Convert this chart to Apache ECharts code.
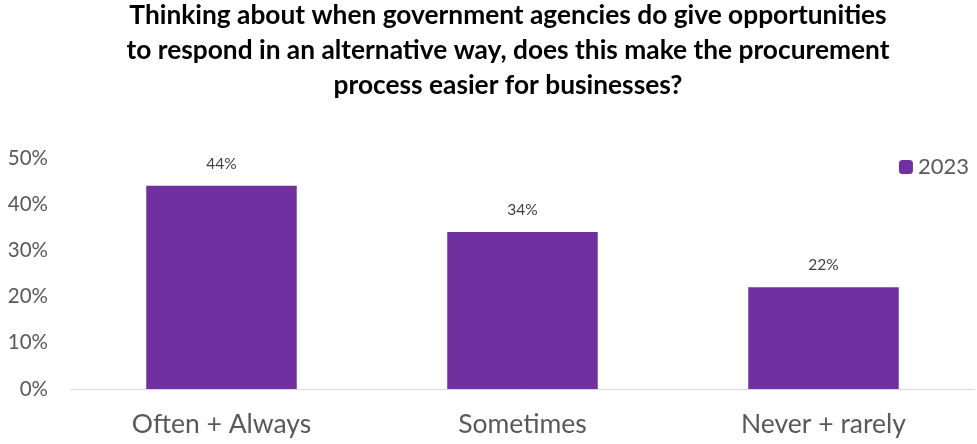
<!DOCTYPE html>
<html><head><meta charset="utf-8">
<script src="https://cdn.jsdelivr.net/npm/echarts@6/dist/echarts.min.js"></script>
<style>html,body{margin:0;padding:0;background:#fff}#c{width:977px;height:444px}</style>
</head><body><div id="c"></div>
<script>
const categories = ["Often + Always", "Sometimes", "Never + rarely"];
const values2023 = [44, 34, 22];
const seriesName = "2023";
const titleText = "Thinking about when government agencies do give opportunities\nto respond in an alternative way, does this make the procurement\nprocess easier for businesses?";

const chart = echarts.init(document.getElementById('c'));
chart.setOption({
  animation: false,
  title: {
    text: titleText, left: 508, top: -2, padding: 0, textAlign: 'center',
    textStyle: {fontFamily: 'Lato', fontWeight: 'bold', fontSize: 26.3, lineHeight: 35, color: '#000'}
  },
  legend: {
    data: [seriesName], right: 3, top: 151, itemWidth: 14, itemHeight: 14, itemGap: 6,
    textStyle: {fontFamily: 'Lato', fontSize: 22, color: '#595959'}
  },
  grid: {left: 71, right: 3, top: 158, bottom: 55, containLabel: false},
  xAxis: {
    type: 'category', data: categories,
    axisLine: {lineStyle: {color: '#d9d9d9', width: 1}},
    axisTick: {show: false},
    axisLabel: {fontFamily: 'Lato', fontSize: 26.5, color: '#595959', margin: 22}
  },
  yAxis: {
    type: 'value', min: 0, max: 50, interval: 10,
    axisLabel: {formatter: '{value}%', fontFamily: 'Lato', fontSize: 20.5, color: '#595959', margin: 23},
    splitLine: {show: false}, axisLine: {show: false}, axisTick: {show: false}
  },
  series: [{
    name: seriesName, type: 'bar', data: values2023, barWidth: '50%',
    itemStyle: {color: '#7030A0'},
    label: {show: true, position: 'top', distance: 14, formatter: '{c}%', fontFamily: 'Lato', fontSize: 15.5, color: '#404040'}
  }]
});
</script></body></html>
